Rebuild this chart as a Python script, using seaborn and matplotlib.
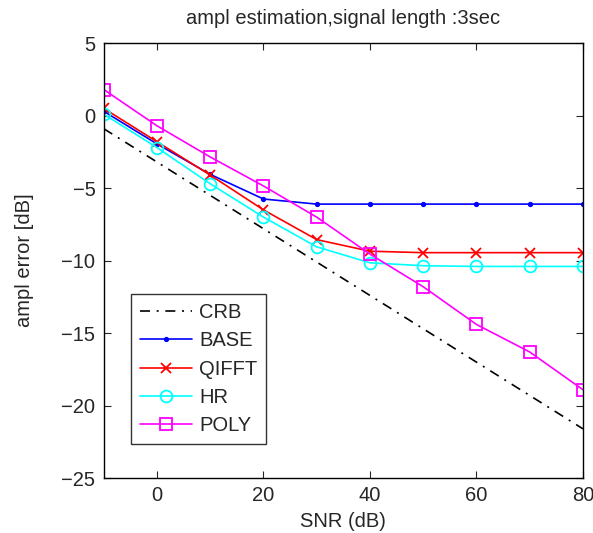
import numpy as np
import pandas as pd
import matplotlib
matplotlib.use('Agg')
import matplotlib.pyplot as plt
import seaborn as sns

# values
snr = [-10, 0, 10, 20, 30, 40, 50, 60, 70, 80]
crb = [-0.9, -3.2, -5.5, -7.8, -10.1, -12.4, -14.7, -17.0, -19.3, -21.6]
base = [0.3, -1.95, -4.05, -5.75, -6.1, -6.1, -6.1, -6.1, -6.1, -6.1]
qifft = [0.5, -1.8, -4.1, -6.5, -8.55, -9.35, -9.45, -9.45, -9.45, -9.45]
hr = [0.1, -2.2, -4.7, -7.0, -9.05, -10.15, -10.35, -10.4, -10.4, -10.4]
poly = [1.8, -0.7, -2.85, -4.85, -7.0, -9.55, -11.8, -14.4, -16.3, -18.9]

sns.set_style('ticks')
plt.rcParams['font.family'] = ['Liberation Sans', 'DejaVu Sans']

fig = plt.figure(figsize=(5.93, 5.33), dpi=100)
ax = fig.add_axes([0.175, 0.103, 0.808, 0.816])

df = pd.DataFrame({'snr': snr, 'CRB': crb, 'BASE': base, 'QIFFT': qifft, 'HR': hr, 'POLY': poly})

# (column, colour, marker, marker size, filled)
styles = [
    ('CRB', 'black', None, 0, False),
    ('BASE', '#0000ff', '.', 5, True),
    ('QIFFT', '#ff0000', 'x', 6.5, True),
    ('HR', '#00ffff', 'o', 8.5, False),
    ('POLY', '#ff00ff', 's', 8, False),
]

handles = []
for name, col, mk, ms, filled in styles:
    sns.lineplot(data=df, x='snr', y=name, ax=ax, color=col, lw=1.2)
    ln = ax.lines[-1]
    if mk is None:
        ln.set_linestyle((0, (6, 4, 1.2, 4)))
    else:
        ln.set_linestyle('-')
        ln.set_marker(mk)
        ln.set_markersize(ms)
        ln.set_markeredgecolor(col)
        ln.set_markerfacecolor(col if filled else 'none')
        ln.set_markeredgewidth(1.3)
    ln.set_label(name)
    handles.append(ln)

ax.set_xlim(-10, 80)
ax.set_ylim(-25, 5)
ax.set_xticks([0, 20, 40, 60, 80])
ax.set_yticks([-25, -20, -15, -10, -5, 0, 5])
ax.set_yticklabels(['\u221225', '\u221220', '\u221215', '\u221210', '\u22125', '0', '5'])
ax.tick_params(direction='in', top=True, right=True, labelsize=14.5, length=5, width=0.8, pad=6)
for s in ax.spines.values():
    s.set_linewidth(1.0)
    s.set_color('black')

ax.set_title('ampl estimation,signal length :3sec', fontsize=14.5, pad=14)
ax.set_xlabel('SNR (dB)', fontsize=14.5, labelpad=4.5)
ax.set_ylabel('ampl error [dB]', fontsize=14.5, labelpad=20)

leg = ax.legend(handles=handles, labels=[s[0] for s in styles], loc='lower left',
                bbox_to_anchor=(0.056, 0.078), fontsize=14.5, frameon=True,
                fancybox=False, edgecolor='black', borderaxespad=0, handlelength=2.6,
                handletextpad=0.35, labelspacing=0.46, borderpad=0.45)
leg.get_frame().set_linewidth(1.0)

fig.savefig('out.png', dpi=100)
